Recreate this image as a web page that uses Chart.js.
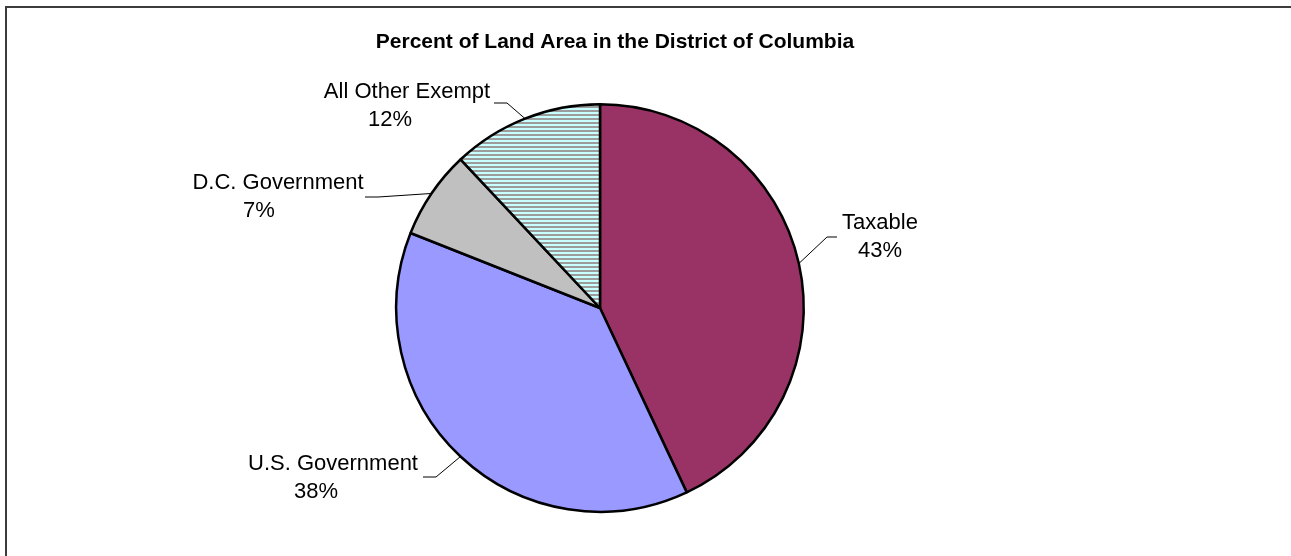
<!DOCTYPE html>
<html lang="en">
<head>
    <meta charset="UTF-8">
    <title>Percent of Land Area in the District of Columbia</title>
    <script src="https://cdn.jsdelivr.net/npm/chart.js"></script>
    <style>
        body {
    margin: 0;
    background: #ffffff;
    overflow: hidden;
}

#frame {
    position: absolute;
    left: 5px;
    top: 6px;
    width: 1400px;
    height: 700px;
    border: 2px solid #3c3c3c;
}

#wrap {
    position: absolute;
    left: 0;
    top: 0;
    width: 1291px;
    height: 556px;
}
    </style>
</head>
<body>
    <div id="frame"></div>
    <div id="wrap">
        <canvas id="landChart" width="1291" height="556"></canvas>
    </div>
    <script>
// Land use shares, clockwise from 12 o'clock
const categories = ["Taxable", "U.S. Government", "D.C. Government", "All Other Exempt"];
const percents = [43, 38, 7, 12];
const sliceColors = ["#993366", "#9999ff", "#c0c0c0", null];

// where each label sits and where its leader line starts
const labelSpots = [
    { x1: 880, x2: 880, y: 229, lx: 837, ly: 237, knee: 827 },
    { x1: 333, x2: 316, y: 470, lx: 423, ly: 477, knee: 436 },
    { x1: 278, x2: 259, y: 189, lx: 365, ly: 197, knee: 378 },
    { x1: 407, x2: 390, y: 98,  lx: 494, ly: 103, knee: 507 }
];

// horizontal cyan / grey stripes for the last slice
function stripes() {
    const c = document.createElement("canvas");
    c.width = 4;
    c.height = 4;
    const g = c.getContext("2d");
    g.fillStyle = "#c8ffff";
    g.fillRect(0, 0, 4, 2);
    g.fillStyle = "#9c9c9c";
    g.fillRect(0, 2, 4, 2);
    return g.createPattern(c, "repeat");
}

const fills = sliceColors.map(c => c || stripes());

const sliceLabels = {
    id: "sliceLabels",
    afterDraw(chart) {
        const ctx = chart.ctx;
        const arcs = chart.getDatasetMeta(0).data;
        ctx.save();

        // title
        ctx.fillStyle = "#000";
        ctx.font = "bold 21px 'Liberation Sans', Arial, sans-serif";
        ctx.textAlign = "center";
        ctx.textBaseline = "middle";
        ctx.fillText("Percent of Land Area in the District of Columbia", 615, 42);

        ctx.font = "22px 'Liberation Sans', Arial, sans-serif";
        ctx.textBaseline = "alphabetic";
        arcs.forEach((arc, i) => {
            const p = arc.getProps(["x", "y", "startAngle", "endAngle", "outerRadius"], true);
            const mid = (p.startAngle + p.endAngle) / 2;
            const ex = p.x + Math.cos(mid) * p.outerRadius;
            const ey = p.y + Math.sin(mid) * p.outerRadius;
            const s = labelSpots[i];

            ctx.strokeStyle = "#000";
            ctx.lineWidth = 1;
            ctx.beginPath();
            ctx.moveTo(s.lx, s.ly);
            ctx.lineTo(s.knee, s.ly);
            ctx.lineTo(ex, ey);
            ctx.stroke();

            ctx.fillStyle = "#000";
            ctx.fillText(categories[i], s.x1, s.y);
            ctx.fillText(percents[i] + "%", s.x2, s.y + 28);
        });
        ctx.restore();
    }
};

new Chart(document.getElementById("landChart"), {
    type: "pie",
    data: {
        labels: categories,
        datasets: [{
            data: percents,
            backgroundColor: fills,
            borderColor: "#000000",
            borderWidth: 2.5
        }]
    },
    options: {
        responsive: false,
        animation: false,
        layout: { padding: { top: 103, bottom: 43, left: 300, right: 391 } },
        plugins: {
            legend: { display: false },
            title: { display: false },
            tooltip: { enabled: false }
        }
    },
    plugins: [sliceLabels]
});
    </script>
</body>
</html>
